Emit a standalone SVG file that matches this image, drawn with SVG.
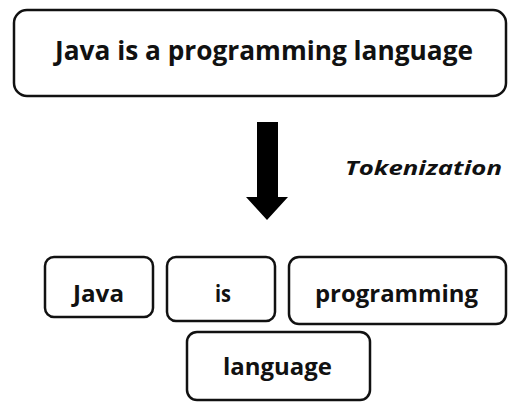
<svg xmlns="http://www.w3.org/2000/svg" width="509" height="402" viewBox="0 0 509 402">
  <style>
    .box { fill: #ffffff; stroke: #111111; stroke-width: 2.5; }
    .lbl { font-family: "Open Sans", Lato, "Liberation Sans", sans-serif; font-weight: bold; fill: #111111; }
    .big { font-size: 27px; }
    .tok { font-size: 24px; }
    .note { font-family: "Open Sans", Lato, "Liberation Sans", sans-serif; font-weight: bold; font-style: italic; font-size: 20px; fill: #111111; }
  </style>
  <rect width="509" height="402" fill="#ffffff"/>

  <!-- sentence -->
  <g id="sentence">
    <rect class="box" x="14" y="10" width="492" height="86" rx="13"/>
    <text class="lbl big" x="55" y="60" textLength="418" lengthAdjust="spacingAndGlyphs">Java is a programming language</text>
  </g>

  <!-- transformation arrow and its caption -->
  <g id="connectors">
    <polygon points="257,122 278,122 278,197 288,197 267,220 246,197 257,197" fill="#000000"/>
    <text class="note" x="345" y="175" textLength="157" lengthAdjust="spacingAndGlyphs">Tokenization</text>
  </g>

  <!-- tokens -->
  <g id="token-java">
    <rect class="box" x="45" y="257" width="108" height="60" rx="9"/>
    <text class="lbl tok" x="73" y="302" textLength="51" lengthAdjust="spacingAndGlyphs">Java</text>
  </g>
  <g id="token-is">
    <rect class="box" x="167" y="257" width="108" height="64" rx="9"/>
    <text class="lbl tok" x="215" y="302" textLength="16" lengthAdjust="spacingAndGlyphs">is</text>
  </g>
  <g id="token-programming">
    <rect class="box" x="289" y="257" width="217" height="67" rx="10"/>
    <text class="lbl tok" x="315" y="302" textLength="163" lengthAdjust="spacingAndGlyphs">programming</text>
  </g>
  <g id="token-language">
    <rect class="box" x="187" y="332" width="183" height="68" rx="10"/>
    <text class="lbl tok" x="223" y="375" textLength="109" lengthAdjust="spacingAndGlyphs">language</text>
  </g>
</svg>
